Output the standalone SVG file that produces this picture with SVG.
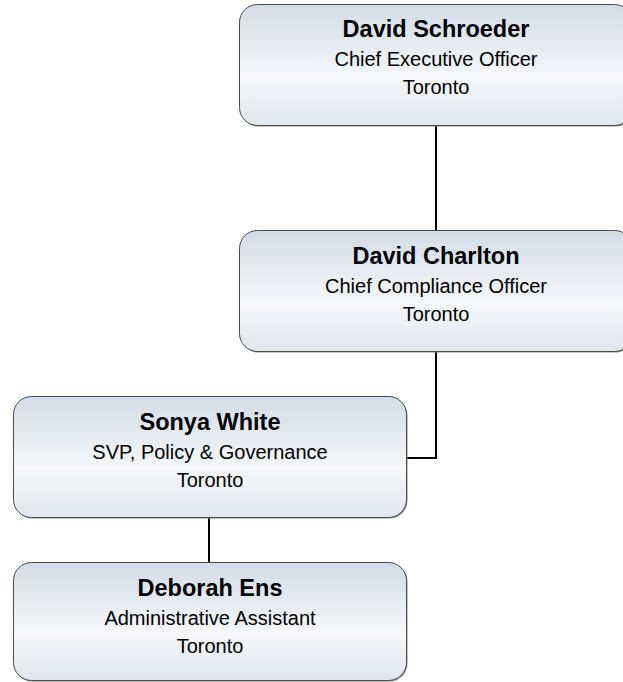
<svg xmlns="http://www.w3.org/2000/svg" width="623" height="682" viewBox="0 0 623 682">
<defs>
<linearGradient id="g" x1="0" y1="0" x2="0" y2="1">
<stop offset="0" stop-color="#d3dbe6"/>
<stop offset="0.6" stop-color="#f6f8fa"/>
<stop offset="1" stop-color="#e0e5ec"/>
</linearGradient>
</defs>
<style>
.sh{fill:#8a8a8a;}
.box{fill:url(#g);stroke:#4a4a4a;stroke-width:1;}
.name{font-family:"Liberation Sans",Arial,sans-serif;font-weight:bold;font-size:23.5px;fill:#000;text-anchor:middle;}
.t{font-family:"Liberation Sans",Arial,sans-serif;font-size:20px;fill:#000;text-anchor:middle;}
.c{fill:none;stroke:#000;stroke-width:2;}
</style>
<rect width="623" height="682" fill="#fff"/>
<g id="connectors">
<path class="c" d="M436 125 V231"/>
<path class="c" d="M436 351 V458 H406"/>
<path class="c" d="M209 518 V563"/>
</g>
<g id="n1">
<rect class="sh" x="240.5" y="5.5" width="393" height="121" rx="18"/>
<rect class="box" x="239.5" y="4.5" width="393" height="121" rx="18"/>
<text class="name" x="436" y="37">David Schroeder</text>
<text class="t" x="436" y="66">Chief Executive Officer</text>
<text class="t" x="436" y="94">Toronto</text>
</g>
<g id="n2">
<rect class="sh" x="240.5" y="231.5" width="393" height="121" rx="18"/>
<rect class="box" x="239.5" y="230.5" width="393" height="121" rx="18"/>
<text class="name" x="436" y="264">David Charlton</text>
<text class="t" x="436" y="293">Chief Compliance Officer</text>
<text class="t" x="436" y="321">Toronto</text>
</g>
<g id="n3">
<rect class="sh" x="14.5" y="397.5" width="393" height="121" rx="18"/>
<rect class="box" x="13.5" y="396.5" width="393" height="121" rx="18"/>
<text class="name" x="210" y="430">Sonya White</text>
<text class="t" x="210" y="459">SVP, Policy &amp; Governance</text>
<text class="t" x="210" y="487">Toronto</text>
</g>
<g id="n4">
<rect class="sh" x="14.5" y="563.5" width="393" height="118" rx="18"/>
<rect class="box" x="13.5" y="562.5" width="393" height="118" rx="18"/>
<text class="name" x="210" y="596">Deborah Ens</text>
<text class="t" x="210" y="625">Administrative Assistant</text>
<text class="t" x="210" y="653">Toronto</text>
</g>
</svg>
